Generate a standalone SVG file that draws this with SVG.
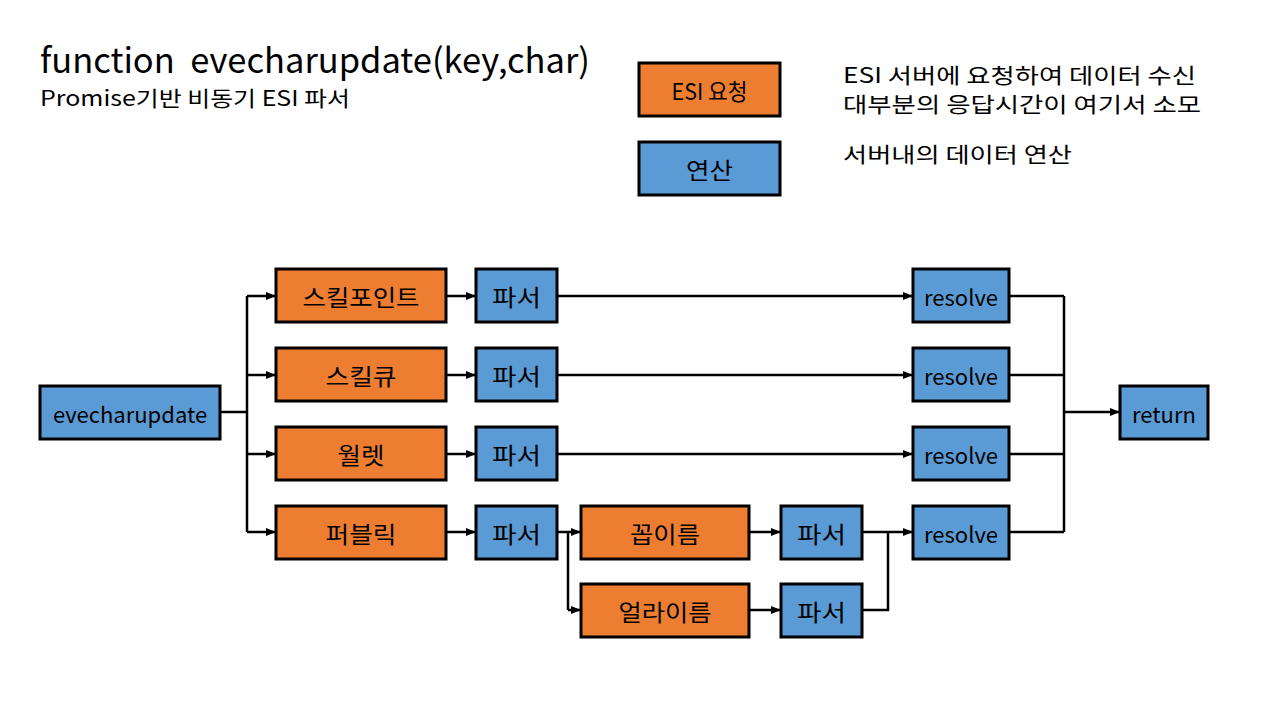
<svg xmlns="http://www.w3.org/2000/svg" width="1280" height="720" viewBox="0 0 1280 720">
<defs>
<marker id="arr" viewBox="0 0 10 10" refX="10" refY="5" markerWidth="4" markerHeight="4" orient="auto" markerUnits="strokeWidth"><path d="M0,1 L10,5 L0,9 z" fill="#000"/></marker>
<style>
text{font-family:"Noto Sans CJK KR","Malgun Gothic","Noto Sans",sans-serif;fill:#000}
.o{fill:#ED7D31;stroke:#000;stroke-width:3}
.b{fill:#5B9BD5;stroke:#000;stroke-width:3}
.t{font-size:22px;text-anchor:middle;dominant-baseline:central}
.k{font-size:23px}
.c{fill:none;stroke:#000;stroke-width:2.5}
.a{marker-end:url(#arr)}
</style>
</defs>
<rect width="1280" height="720" fill="#fff"/>
<text x="40" y="73" font-size="34" textLength="550" lengthAdjust="spacingAndGlyphs">function&#160; evecharupdate(key,char)</text>
<text x="40" y="106" font-size="21" textLength="310" lengthAdjust="spacingAndGlyphs">Promise기반 비동기 ESI 파서</text>

<g id="legend-esi"><rect class="o" x="639" y="63" width="141" height="53"/><text class="t k" x="709.5" y="89.5" textLength="76" lengthAdjust="spacingAndGlyphs">ESI 요청</text></g>
<g id="legend-calc"><rect class="b" x="639" y="142" width="141" height="53"/><text class="t k" x="709.5" y="168.5" textLength="47" lengthAdjust="spacingAndGlyphs">연산</text></g>
<g id="legend-text">
<text x="843" y="83" font-size="21" textLength="353" lengthAdjust="spacingAndGlyphs">ESI 서버에 요청하여 데이터 수신</text>
<text x="843" y="112" font-size="21" textLength="358" lengthAdjust="spacingAndGlyphs">대부분의 응답시간이 여기서 소모</text>
<text x="843" y="162" font-size="21" textLength="229" lengthAdjust="spacingAndGlyphs">서버내의 데이터 연산</text>
</g>

<g id="connectors">
<path class="c" d="M220,412 H247 M247,296 V532"/>
<path class="c a" d="M247,296 H276"/>
<path class="c a" d="M247,375 H276"/>
<path class="c a" d="M247,454 H276"/>
<path class="c a" d="M247,532 H276"/>
<path class="c a" d="M446,296 H476"/>
<path class="c a" d="M446,375 H476"/>
<path class="c a" d="M446,454 H476"/>
<path class="c a" d="M446,532 H476"/>
<path class="c a" d="M557,296 H913"/>
<path class="c a" d="M557,375 H913"/>
<path class="c a" d="M557,454 H913"/>
<path class="c" d="M557,532 H568 M568,532 V610"/>
<path class="c a" d="M568,532 H581"/>
<path class="c a" d="M568,610 H581"/>
<path class="c a" d="M749,532 H781"/>
<path class="c a" d="M749,610 H781"/>
<path class="c a" d="M862,532 H913"/>
<path class="c" d="M862,610 H888 V532"/>
<path class="c" d="M1009,296 H1064 M1009,375 H1064 M1009,454 H1064 M1009,532 H1064 M1064,296 V532"/>
<path class="c a" d="M1064,412 H1120"/>
</g>

<g id="n-eve"><rect class="b" x="40" y="386" width="180" height="53"/><text class="t" x="130" y="412.5">evecharupdate</text></g>
<g id="n-skillpoint"><rect class="o" x="276" y="269" width="170" height="53"/><text class="t k" x="361" y="295.5" textLength="117" lengthAdjust="spacingAndGlyphs">스킬포인트</text></g>
<g id="n-skillqueue"><rect class="o" x="276" y="348" width="170" height="53"/><text class="t k" x="361" y="374.5" textLength="71" lengthAdjust="spacingAndGlyphs">스킬큐</text></g>
<g id="n-wallet"><rect class="o" x="276" y="427" width="170" height="53"/><text class="t k" x="361" y="453.5" textLength="47" lengthAdjust="spacingAndGlyphs">월렛</text></g>
<g id="n-public"><rect class="o" x="276" y="506" width="170" height="53"/><text class="t k" x="361" y="532.5" textLength="71" lengthAdjust="spacingAndGlyphs">퍼블릭</text></g>
<g id="n-parser1"><rect class="b" x="476" y="269" width="81" height="53"/><text class="t k" x="516.5" y="295.5" textLength="49" lengthAdjust="spacingAndGlyphs">파서</text></g>
<g id="n-parser2"><rect class="b" x="476" y="348" width="81" height="53"/><text class="t k" x="516.5" y="374.5" textLength="49" lengthAdjust="spacingAndGlyphs">파서</text></g>
<g id="n-parser3"><rect class="b" x="476" y="427" width="81" height="53"/><text class="t k" x="516.5" y="453.5" textLength="49" lengthAdjust="spacingAndGlyphs">파서</text></g>
<g id="n-parser4"><rect class="b" x="476" y="506" width="81" height="53"/><text class="t k" x="516.5" y="532.5" textLength="49" lengthAdjust="spacingAndGlyphs">파서</text></g>
<g id="n-corp"><rect class="o" x="581" y="506" width="168" height="53"/><text class="t k" x="665" y="532.5" textLength="70" lengthAdjust="spacingAndGlyphs">꼽이름</text></g>
<g id="n-alliance"><rect class="o" x="581" y="584" width="168" height="53"/><text class="t k" x="665" y="610.5" textLength="93" lengthAdjust="spacingAndGlyphs">얼라이름</text></g>
<g id="n-parser5"><rect class="b" x="781" y="506" width="81" height="53"/><text class="t k" x="821.5" y="532.5" textLength="49" lengthAdjust="spacingAndGlyphs">파서</text></g>
<g id="n-parser6"><rect class="b" x="781" y="584" width="81" height="53"/><text class="t k" x="821.5" y="610.5" textLength="49" lengthAdjust="spacingAndGlyphs">파서</text></g>
<g id="n-resolve1"><rect class="b" x="913" y="269" width="96" height="53"/><text class="t" x="961" y="295.5">resolve</text></g>
<g id="n-resolve2"><rect class="b" x="913" y="348" width="96" height="53"/><text class="t" x="961" y="374.5">resolve</text></g>
<g id="n-resolve3"><rect class="b" x="913" y="427" width="96" height="53"/><text class="t" x="961" y="453.5">resolve</text></g>
<g id="n-resolve4"><rect class="b" x="913" y="506" width="96" height="53"/><text class="t" x="961" y="532.5">resolve</text></g>
<g id="n-return"><rect class="b" x="1120" y="386" width="88" height="53"/><text class="t" x="1164" y="412.5">return</text></g>
</svg>
